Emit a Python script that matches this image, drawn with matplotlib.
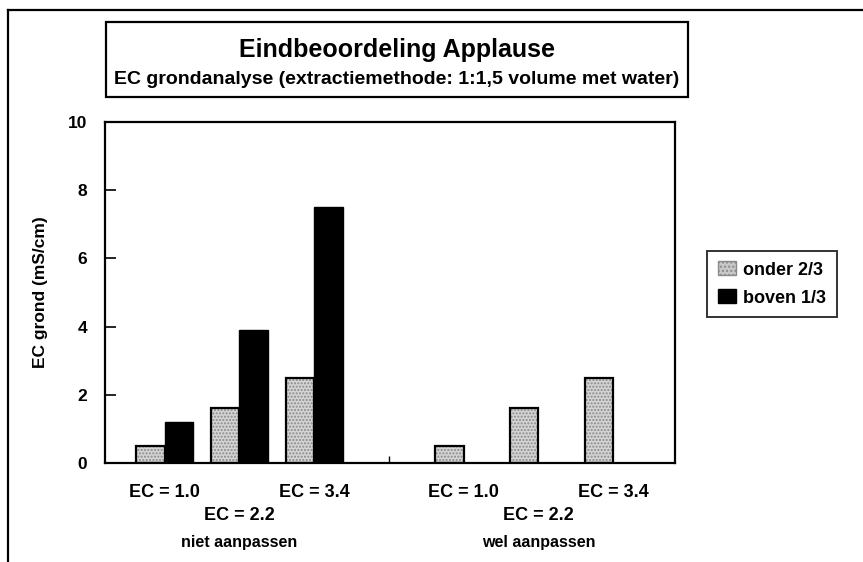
import numpy as np
import matplotlib
matplotlib.use('Agg')
import matplotlib.pyplot as plt
from matplotlib.patches import Rectangle, Patch
from matplotlib.lines import Line2D

plt.rcParams['font.family'] = ['Liberation Sans', 'DejaVu Sans']
plt.rcParams['font.weight'] = 'bold'

# data
ec_labels = ['EC = 1.0', 'EC = 2.2', 'EC = 3.4']
groups = ['niet aanpassen', 'wel aanpassen']
series = ['onder 2/3', 'boven 1/3']
onder = [0.5, 1.6, 2.5, 0.5, 1.6, 2.5]
boven = [1.2, 3.9, 7.5, 0.0, 0.0, 0.0]
yticks = [0, 2, 4, 6, 8, 10]

# positie van elke categorie (slot 3 blijft leeg tussen de groepen)
pos = np.array([0, 1, 2, 4, 5, 6])
w = 0.38

fig = plt.figure(figsize=(8.63, 5.62), dpi=100)
ax = fig.add_axes([0.1217, 0.1762, 0.6605, 0.6068])

# onder 2/3: grijs gespikkeld, zwarte rand
ax.bar(pos - w/2, onder, w, color='#d4d4d4', edgecolor='#8a8a8a', hatch='.....', linewidth=0)
ax.bar(pos - w/2, onder, w, fill=False, edgecolor='black', linewidth=1.6)
# boven 1/3: zwart
ax.bar(pos + w/2, boven, w, color='black', edgecolor='black', linewidth=1.0)

ax.set_xlim(-0.8, 6.83)
ax.set_ylim(0, 10)
ax.set_yticks(yticks)
ax.set_yticklabels([str(t) for t in yticks], fontsize=12.5, fontweight='bold')
ax.tick_params(axis='y', direction='in', length=8, width=1.2, pad=13)
ax.set_xticks([3])
ax.set_xticklabels([''])
ax.tick_params(axis='x', direction='in', length=5, width=1)
for s in ax.spines.values():
    s.set_linewidth(1.6)
ax.set_ylabel('EC grond (mS/cm)', fontsize=12.5, fontweight='bold')
ax.yaxis.set_label_coords(-0.1, 0.5)

# categorie labels onder de as
for gi, g in enumerate(groups):
    base = gi * 4
    for ci, lab in enumerate(ec_labels):
        x = base + ci
        yy = -0.0855 if ci != 1 else -0.153
        ax.text(x, yy, lab, transform=ax.get_xaxis_transform(), ha='center', va='center',
                fontsize=13, fontweight='bold')
    ax.text(base + 1, -0.233, g, transform=ax.get_xaxis_transform(), ha='center', va='center',
            fontsize=11.5, fontweight='bold')

# titel kader
fig.patches.append(Rectangle((0.1228, 0.8274), 0.6744, 0.1335, transform=fig.transFigure,
                             fill=False, edgecolor='black', linewidth=1.6))
fig.text(0.460, 0.911, 'Eindbeoordeling Applause', ha='center', va='center', fontsize=18, fontweight='bold')
fig.text(0.460, 0.8594, 'EC grondanalyse (extractiemethode: 1:1,5 volume met water)',
         ha='center', va='center', fontsize=14, fontweight='bold')

# legenda
handles = [Patch(facecolor='#c8c8c8', edgecolor='#8a8a8a', hatch='....'),
           Patch(facecolor='black', edgecolor='black')]
leg = fig.legend(handles, series, loc='center left', bbox_to_anchor=(0.8192, 0.4947),
                 frameon=True, fancybox=False, prop={'weight': 'bold', 'size': 13},
                 handlelength=1.0, handleheight=0.8, handletextpad=0.4, borderpad=0.6,
                 labelspacing=0.6, borderaxespad=0)
leg.get_frame().set_edgecolor('black')
leg.get_frame().set_linewidth(1.4)

# buitenkader (links en boven)
fig.add_artist(Line2D([0.0095, 0.0095], [0.0, 0.983], transform=fig.transFigure, color='black', lw=1.6))
fig.add_artist(Line2D([0.0095, 1.0], [0.983, 0.983], transform=fig.transFigure, color='black', lw=1.6))

fig.savefig('out.png', dpi=100)
